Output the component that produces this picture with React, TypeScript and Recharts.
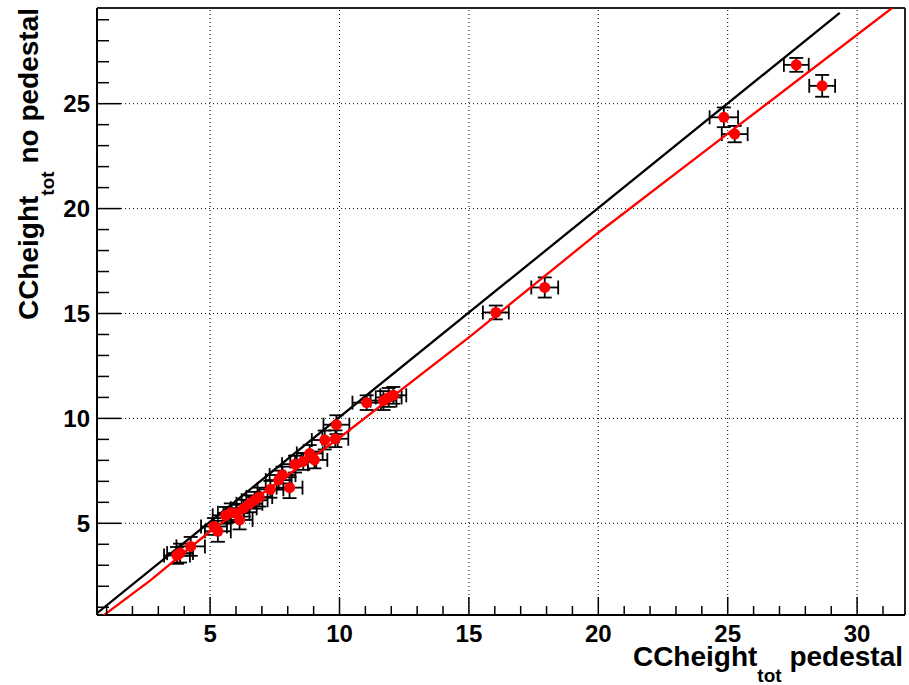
import {
  ErrorBar,
  ReferenceLine,
  Scatter,
  ScatterChart,
  XAxis,
  YAxis,
} from "recharts";

// measured points: CCheight_tot with pedestal (x) vs without pedestal (y)
const xVals = [3.72, 3.84, 4.25, 5.15, 5.3, 5.6, 5.8, 6.02, 6.14, 6.3, 6.52, 6.72, 6.9, 7.33, 7.65, 7.8, 8.07, 8.28, 8.6, 8.85, 9.03, 9.43, 9.84, 9.88, 11.05, 11.7, 11.9, 12.08, 16.04, 17.93, 24.85, 25.27, 27.65, 28.65];
const yVals = [3.47, 3.58, 3.9, 4.85, 4.62, 5.38, 5.5, 5.48, 5.16, 5.72, 5.93, 6.1, 6.25, 6.62, 7.06, 7.3, 6.7, 7.82, 7.95, 8.33, 8.02, 8.97, 9.03, 9.7, 10.75, 10.85, 11.0, 11.1, 15.05, 16.24, 24.35, 23.55, 26.85, 25.85];
const xErr = [0.5, 0.5, 0.55, 0.5, 0.5, 0.5, 0.5, 0.5, 0.5, 0.5, 0.5, 0.5, 0.5, 0.5, 0.5, 0.5, 0.5, 0.5, 0.5, 0.5, 0.5, 0.5, 0.5, 0.5, 0.55, 0.5, 0.5, 0.5, 0.5, 0.52, 0.55, 0.5, 0.48, 0.5];
const yErr = [0.4, 0.45, 0.45, 0.4, 0.5, 0.4, 0.45, 0.4, 0.45, 0.4, 0.4, 0.4, 0.45, 0.4, 0.45, 0.4, 0.5, 0.4, 0.4, 0.4, 0.4, 0.45, 0.4, 0.45, 0.35, 0.45, 0.45, 0.4, 0.33, 0.48, 0.47, 0.39, 0.33, 0.52];

// y = x reference and the red fit curve
const diagX = [0.63, 29.33];
const diagY = [0.72, 29.33];
const fitX = [0.87, 2.68, 5, 10, 15, 20, 25, 31.35];
const fitY = [0.6, 2.27, 4.62, 9.08, 13.86, 18.85, 23.57, 29.56];

const xTicks = Array.from({ length: 31 }, (_, i) => i + 1);
const yTicks = Array.from({ length: 29 }, (_, i) => i + 1);
const gridX = [5, 10, 15, 20, 25, 30];
const gridY = [5, 10, 15, 20, 25];

const X_MIN = 0.63;
const X_MAX = 31.85;
const Y_MIN = 0.63;
const Y_MAX = 29.56;

const FONT = "'Liberation Sans', Arial, Helvetica, sans-serif";

const points = xVals.map((x, i) => ({ x, y: yVals[i], ex: xErr[i], ey: yErr[i] }));
const diag = diagX.map((x, i) => ({ x, y: diagY[i] }));
const fit = fitX.map((x, i) => ({ x, y: fitY[i] }));

function XTick({ x, y, payload }: any) {
  const v = payload.value;
  const major = v % 5 === 0;
  return (
    <g>
      <line x1={x} x2={x} y1={y} y2={y - (major ? 18 : 9)} stroke="#000" strokeWidth={1.5} />
      {major && (
        <text x={x} y={y + 27} textAnchor="middle" fontFamily={FONT} fontWeight="bold" fontSize={24} fill="#000">
          {v}
        </text>
      )}
    </g>
  );
}

function YTick({ x, y, payload }: any) {
  const v = payload.value;
  const major = v % 5 === 0;
  return (
    <g>
      <line x1={x} x2={x + (major ? 24 : 12)} y1={y} y2={y} stroke="#000" strokeWidth={1.5} />
      {major && (
        <text x={x - 7} y={y + 8.5} textAnchor="end" fontFamily={FONT} fontWeight="bold" fontSize={24} fill="#000">
          {v}
        </text>
      )}
    </g>
  );
}

const xTitle = () => (
  <text x={903} y={666} textAnchor="end" fontFamily={FONT} fontWeight="bold" fontSize={28} fill="#000">
    CCheight
    <tspan fontSize={19} dy={16}>tot</tspan>
    <tspan dy={-16}> pedestal</tspan>
  </text>
);

const yTitle = () => (
  <text transform="translate(38, 8) rotate(-90)" x={0} y={0} textAnchor="end" fontFamily={FONT} fontWeight="bold" fontSize={28} fill="#000">
    CCheight
    <tspan fontSize={19} dy={16}>tot</tspan>
    <tspan dy={-16}> no pedestal</tspan>
  </text>
);

const dot = (p: any) => <circle cx={p.cx} cy={p.cy} r={5.5} fill="#ff0000" />;
const none = () => <g />;

export default function App() {
  return (
    <div style={{ width: 909, height: 685 }}>
      <style>{"body{margin:0;background:#fff}"}</style>
      <ScatterChart width={909} height={685} margin={{ top: 8, right: 4, left: 0, bottom: 0 }}>
        <XAxis
          type="number"
          dataKey="x"
          domain={[X_MIN, X_MAX]}
          allowDataOverflow
          ticks={xTicks}
          interval={0}
          height={70}
          tickSize={0}
          tickMargin={0}
          tickLine={false}
          tick={<XTick />}
          axisLine={{ stroke: "#000", strokeWidth: 2 }}
          label={{ content: xTitle }}
        />
        <YAxis
          type="number"
          dataKey="y"
          domain={[Y_MIN, Y_MAX]}
          allowDataOverflow
          ticks={yTicks}
          interval={0}
          width={97}
          tickSize={0}
          tickMargin={0}
          tickLine={false}
          tick={<YTick />}
          axisLine={{ stroke: "#000", strokeWidth: 2 }}
          label={{ content: yTitle }}
        />
        {gridX.map((g) => (
          <ReferenceLine key={"gx" + g} x={g} stroke="#000" strokeWidth={1} strokeDasharray="1 3" />
        ))}
        {gridY.map((g) => (
          <ReferenceLine key={"gy" + g} y={g} stroke="#000" strokeWidth={1} strokeDasharray="1 3" />
        ))}
        <ReferenceLine y={Y_MAX} stroke="#222" strokeWidth={2} />
        <ReferenceLine x={X_MAX} stroke="#222" strokeWidth={2} />
        <Scatter data={diag} line={{ stroke: "#000", strokeWidth: 2.3 }} shape={none} isAnimationActive={false} legendType="none" />
        <Scatter data={fit} line={{ stroke: "#ff0000", strokeWidth: 2.3 }} shape={none} isAnimationActive={false} legendType="none" />
        <Scatter data={points} shape={dot} isAnimationActive={false}>
          <ErrorBar dataKey="ex" direction="x" width={7} stroke="#000" strokeWidth={1.8} isAnimationActive={false} />
          <ErrorBar dataKey="ey" direction="y" width={7} stroke="#000" strokeWidth={1.8} isAnimationActive={false} />
        </Scatter>
      </ScatterChart>
    </div>
  );
}
